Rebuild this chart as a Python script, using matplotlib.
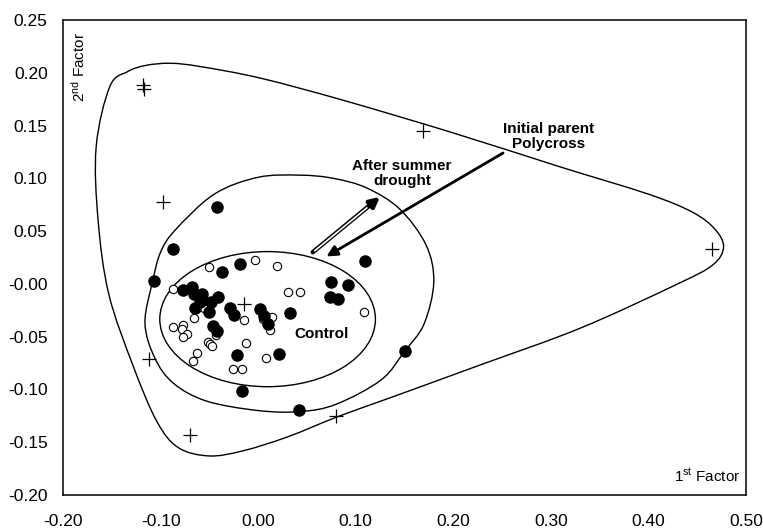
import matplotlib
matplotlib.use("Agg")
import matplotlib.pyplot as plt
import numpy as np
from matplotlib.path import Path
from matplotlib.patches import PathPatch, Ellipse

plt.rcParams["font.family"] = ["Liberation Sans", "DejaVu Sans"]
plt.rcParams["mathtext.default"] = "regular"

# factor scores: filled = after summer drought, open = control, + = initial parents
drought_x = [-0.087, -0.107, -0.042, -0.019, -0.037, -0.077, -0.068, -0.066, -0.058,
             -0.060, -0.065, -0.048, -0.041, -0.050, -0.029, -0.025, 0.002, 0.006,
             0.010, 0.033, 0.075, 0.092, 0.074, 0.082, 0.1095, 0.150, 0.021, -0.022,
             -0.017, 0.042, -0.046, -0.042]
drought_y = [0.033, 0.003, 0.073, 0.019, 0.011, -0.006, -0.003, -0.010, -0.010,
             -0.017, -0.023, -0.017, -0.012, -0.027, -0.023, -0.029, -0.024, -0.030,
             -0.038, -0.028, 0.002, -0.001, -0.012, -0.014, 0.022, -0.064, -0.066,
             -0.067, -0.101, -0.119, -0.040, -0.045]

control_x = [-0.003, -0.050, 0.019, -0.087, 0.031, 0.043, 0.108, -0.056, -0.066,
             -0.015, 0.005, 0.014, 0.012, -0.087, -0.077, -0.078, -0.073, -0.077,
             -0.043, -0.051, -0.049, -0.047, -0.012, -0.063, -0.067, -0.026, -0.017,
             0.008]
control_y = [0.023, 0.016, 0.017, -0.005, -0.008, -0.008, -0.027, -0.023, -0.032,
             -0.034, -0.033, -0.031, -0.044, -0.041, -0.039, -0.043, -0.047, -0.050,
             -0.048, -0.055, -0.057, -0.059, -0.056, -0.065, -0.073, -0.081, -0.081,
             -0.070]

parent_x = [-0.118, -0.117, 0.169, -0.098, 0.465, -0.014, -0.112, -0.070, 0.080]
parent_y = [0.188, 0.185, 0.145, 0.078, 0.033, -0.019, -0.071, -0.143, -0.125]

# group outlines
outer_x = [-0.166, -0.152, -0.134, -0.115, -0.090, -0.060, 0.002, 0.087, 0.200, 0.309,
           0.400, 0.445, 0.468, 0.477, 0.466, 0.430, 0.330, 0.227, 0.135, 0.081,
           0.030, -0.015, -0.050, -0.082, -0.104, -0.128, -0.153, -0.164]
outer_y = [0.130, 0.187, 0.201, 0.207, 0.209, 0.206, 0.195, 0.174, 0.143, 0.111,
           0.085, 0.068, 0.052, 0.035, 0.018, 0.000, -0.042, -0.077, -0.108, -0.126,
           -0.145, -0.158, -0.163, -0.155, -0.130, -0.078, -0.010, 0.060]

drought_hull_x = [-0.116, -0.108, -0.100, -0.085, -0.045, 0.000, 0.043, 0.077, 0.111,
                  0.145, 0.172, 0.180, 0.170, 0.150, 0.126, 0.080, 0.043, 0.000,
                  -0.053, -0.087, -0.106]
drought_hull_y = [-0.037, 0.003, 0.030, 0.051, 0.085, 0.101, 0.103, 0.100, 0.091,
                  0.071, 0.037, 0.002, -0.038, -0.064, -0.091, -0.114, -0.121, -0.120,
                  -0.111, -0.094, -0.070]

control_center = (0.0097, -0.0334)
control_size = (0.221, 0.128)


def closed_curve(xs, ys):
    """Closed Catmull-Rom curve through the given points as cubic Bezier segments."""
    pts = np.column_stack([xs, ys])
    n = len(pts)
    verts = [pts[0]]
    codes = [Path.MOVETO]
    for i in range(n):
        p0, p1, p2, p3 = pts[i - 1], pts[i], pts[(i + 1) % n], pts[(i + 2) % n]
        verts += [p1 + (p2 - p0) / 6, p2 - (p3 - p1) / 6, p2]
        codes += [Path.CURVE4] * 3
    return Path(verts, codes)


fig = plt.figure(figsize=(7.63, 5.30), dpi=100)
ax = fig.add_axes([63 / 763, 35 / 530, 683 / 763, 475 / 530])

ax.add_patch(PathPatch(closed_curve(outer_x, outer_y), fill=False, lw=1.0, ec="black"))
ax.add_patch(PathPatch(closed_curve(drought_hull_x, drought_hull_y), fill=False, lw=1.0,
                       ec="black"))
ax.add_patch(Ellipse(control_center, *control_size, fill=False, lw=1.0, ec="black"))

ax.plot(control_x, control_y, "o", ms=6, mfc="white", mec="black", mew=0.8)
ax.plot(drought_x, drought_y, "o", ms=8, mfc="black", mec="black")
ax.plot(parent_x, parent_y, "+", ms=10, mew=0.9, color="black")

# initial parents -> drought
ax.annotate("", xy=(0.070, 0.026), xytext=(0.251, 0.124),
            arrowprops=dict(arrowstyle="-|>", lw=2.0, color="black", mutation_scale=16,
                            shrinkA=0, shrinkB=0))
# control -> drought (hollow shaft)
ax.annotate("", xy=(0.125, 0.0825), xytext=(0.056, 0.030),
            arrowprops=dict(arrowstyle="-|>", lw=3.2, color="black", mutation_scale=14,
                            shrinkA=0, shrinkB=0))
ax.plot([0.0575, 0.112], [0.031, 0.0725], color="white", lw=1.2, solid_capstyle="butt",
        zorder=5)

ax.text(0.298, 0.140, "Initial parent\nPolycross", ha="center", va="center",
        fontsize=11, fontweight="bold", linespacing=1.1)
ax.text(0.1475, 0.105, "After summer\ndrought", ha="center", va="center",
        fontsize=11, fontweight="bold", linespacing=1.1)
ax.text(0.0655, -0.047, "Control", ha="center", va="center", fontsize=11,
        fontweight="bold")
ax.text(0.494, -0.187, "1$^{st}$ Factor", ha="right", va="baseline", fontsize=11)
ax.text(-0.1836, 0.239, "2$^{nd}$ Factor", ha="center", va="top", rotation=90,
        fontsize=11)

ax.set_xlim(-0.2, 0.5)
ax.set_ylim(-0.2, 0.25)
ax.set_xticks(np.arange(-0.2, 0.51, 0.1))
ax.set_yticks(np.arange(-0.2, 0.26, 0.05))
ax.xaxis.set_major_formatter(matplotlib.ticker.FormatStrFormatter("%.2f"))
ax.yaxis.set_major_formatter(matplotlib.ticker.FormatStrFormatter("%.2f"))
ax.tick_params(length=0, labelsize=12.5)
ax.tick_params(axis="x", pad=14)
ax.tick_params(axis="y", pad=11)
for side in ax.spines.values():
    side.set_linewidth(1.1)

fig.savefig("out.png", dpi=100)
